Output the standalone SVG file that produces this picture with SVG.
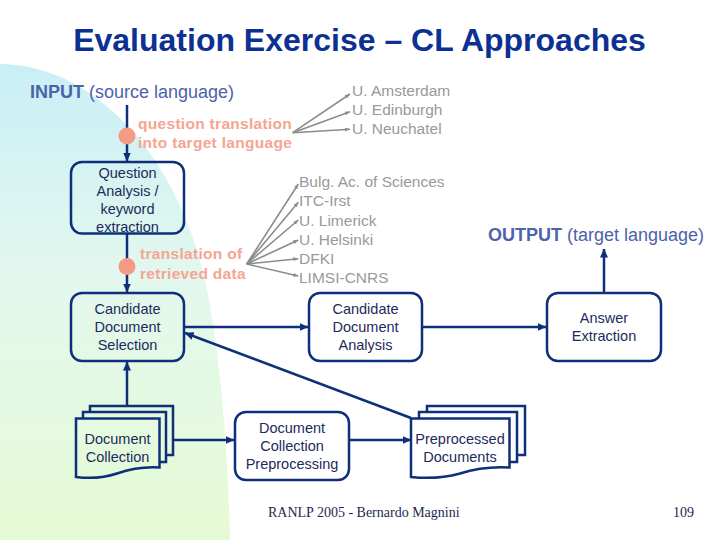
<svg xmlns="http://www.w3.org/2000/svg" width="720" height="540" viewBox="0 0 720 540">
<defs>
<linearGradient id="bg" x1="0" y1="64" x2="0" y2="540" gradientUnits="userSpaceOnUse">
<stop offset="0" stop-color="#c9eff6"/>
<stop offset="0.45" stop-color="#e3f8ee"/>
<stop offset="1" stop-color="#e6fbd4"/>
</linearGradient>
<marker id="ah" markerWidth="9" markerHeight="8" refX="8.5" refY="4" orient="auto" markerUnits="userSpaceOnUse">
<path d="M0,0 L9,4 L0,8 Z" fill="#0e2f7a"/>
</marker>
<marker id="gh" markerWidth="5" markerHeight="4" refX="5" refY="2" orient="auto" markerUnits="userSpaceOnUse">
<path d="M0,0 L5,2 L0,4 Z" fill="#8c8c8c"/>
</marker>
<style>
.box{fill:none;stroke:#0e2f7a;stroke-width:2.5}
.page{fill:#ffffff;stroke:#0e2f7a;stroke-width:2.5;stroke-linejoin:miter}
.pageg{fill:url(#bg);stroke:#0e2f7a;stroke-width:2.5;stroke-linejoin:miter}
.bt{font-family:"Liberation Sans",Arial,sans-serif;font-size:14.5px;fill:#1c2b5c;text-anchor:middle}
.con{stroke:#0e2f7a;stroke-width:2.5;fill:none;marker-end:url(#ah)}
.fan{stroke:#8c8c8c;stroke-width:1.6;fill:none;marker-end:url(#gh)}
.gt{font-family:"Liberation Sans",Arial,sans-serif;font-size:15.5px;fill:#999999}
.st{font-family:"Liberation Sans",Arial,sans-serif;font-size:15.5px;font-weight:bold;fill:#f5a590;letter-spacing:0.3px}
.io{font-family:"Liberation Sans",Arial,sans-serif;font-size:18px;fill:#4d62aa}
.ft{font-family:"Liberation Serif","Times New Roman",serif;font-size:14px;fill:#1c2a50}
</style>
</defs>
<path d="M0,64 C90,64 175,150 205,280 C220,350 228,450 230,540 L0,540 Z" fill="url(#bg)"/>

<text x="359.5" y="51" text-anchor="middle" font-family="Liberation Sans, Arial, sans-serif" font-size="32" font-weight="bold" fill="#0c3192">Evaluation Exercise – CL Approaches</text>

<text class="io" x="30" y="98"><tspan font-weight="bold">INPUT</tspan> (source language)</text>
<text class="io" x="488" y="241"><tspan font-weight="bold">OUTPUT</tspan> (target language)</text>

<text class="st" x="138" y="129">question translation</text>
<text class="st" x="138" y="148">into target language</text>
<text class="st" x="140" y="259">translation of</text>
<text class="st" x="140" y="279">retrieved data</text>

<g id="connectors">
<line class="con" x1="127" y1="105" x2="127" y2="161"/>
<line class="con" x1="127" y1="234" x2="127" y2="292"/>
<line class="con" x1="127" y1="406" x2="127" y2="362"/>
<line class="con" x1="174" y1="440" x2="234" y2="440"/>
<line class="con" x1="350" y1="440" x2="411" y2="440"/>
<line class="con" x1="411" y1="418" x2="185" y2="333"/>
<line class="con" x1="185" y1="327" x2="308" y2="327"/>
<line class="con" x1="423" y1="327" x2="546" y2="327"/>
<line class="con" x1="604" y1="292" x2="604" y2="249"/>
<line class="fan" x1="292.7" y1="132.7" x2="350" y2="94"/>
<line class="fan" x1="292.7" y1="132.7" x2="350" y2="111.7"/>
<line class="fan" x1="292.7" y1="132.7" x2="350" y2="129.3"/>
<line class="fan" x1="246.7" y1="264" x2="298.3" y2="184"/>
<line class="fan" x1="246.7" y1="264" x2="298.3" y2="202.3"/>
<line class="fan" x1="246.7" y1="264" x2="298.3" y2="220"/>
<line class="fan" x1="246.7" y1="264" x2="298.3" y2="240"/>
<line class="fan" x1="246.7" y1="264" x2="298.3" y2="258.7"/>
<line class="fan" x1="246.7" y1="264" x2="298.3" y2="276"/>
</g>

<circle cx="127" cy="136" r="8.5" fill="#f59a84"/>
<circle cx="127" cy="266.5" r="8.5" fill="#f59a84"/>

<g id="labels-grey">
<text class="gt" x="352" y="96">U. Amsterdam</text>
<text class="gt" x="352" y="115">U. Edinburgh</text>
<text class="gt" x="352" y="134">U. Neuchatel</text>
<text class="gt" x="299" y="187">Bulg. Ac. of Sciences</text>
<text class="gt" x="299" y="206">ITC-Irst</text>
<text class="gt" x="299" y="225.5">U. Limerick</text>
<text class="gt" x="299" y="245">U. Helsinki</text>
<text class="gt" x="299" y="264">DFKI</text>
<text class="gt" x="299" y="283">LIMSI-CNRS</text>
</g>

<g id="question-analysis">
<rect class="box" x="71" y="162" width="113" height="71.5" rx="11"/>
<text class="bt" x="127.5" y="177.5">Question</text>
<text class="bt" x="127.5" y="195.5">Analysis /</text>
<text class="bt" x="127.5" y="213.5">keyword</text>
<text class="bt" x="127.5" y="231.5">extraction</text>
</g>

<g id="candidate-document-selection">
<rect class="box" x="71" y="293" width="113" height="68" rx="11"/>
<text class="bt" x="127.5" y="313.5">Candidate</text>
<text class="bt" x="127.5" y="331.5">Document</text>
<text class="bt" x="127.5" y="349.5">Selection</text>
</g>

<g id="candidate-document-analysis">
<rect class="box" x="309" y="293" width="113" height="68" rx="11"/>
<text class="bt" x="365.5" y="313.5">Candidate</text>
<text class="bt" x="365.5" y="331.5">Document</text>
<text class="bt" x="365.5" y="349.5">Analysis</text>
</g>

<g id="answer-extraction">
<rect class="box" x="547" y="293" width="114" height="68" rx="11"/>
<text class="bt" x="604" y="322.5">Answer</text>
<text class="bt" x="604" y="340.5">Extraction</text>
</g>

<g id="document-collection-preprocessing">
<rect class="box" x="235" y="412" width="114" height="68" rx="11"/>
<text class="bt" x="292" y="432.5">Document</text>
<text class="bt" x="292" y="450.5">Collection</text>
<text class="bt" x="292" y="468.5">Preprocessing</text>
</g>

<g id="document-collection">
<rect class="pageg" x="90" y="406" width="83" height="49"/>
<rect class="pageg" x="83" y="412" width="83" height="50"/>
<path class="pageg" d="M76,418.5 H159.5 V467.5 C145,466.5 130,469 117,473.5 C102,478.5 88,478.5 76,477 Z"/>
<text class="bt" x="117.5" y="443.5">Document</text>
<text class="bt" x="117.5" y="461.5">Collection</text>
</g>

<g id="preprocessed-documents">
<rect class="page" x="427" y="406" width="98" height="49"/>
<rect class="page" x="419" y="412" width="98" height="50"/>
<path class="page" d="M411,418.5 H509.5 V467.5 C492,466.5 474,469 460,473.5 C442,478.5 425,478.5 411,477 Z"/>
<text class="bt" x="460" y="443.5">Preprocessed</text>
<text class="bt" x="460" y="461.5">Documents</text>
</g>

<text class="ft" x="268" y="517">RANLP 2005 - Bernardo Magnini</text>
<text class="ft" x="673" y="517">109</text>
</svg>
